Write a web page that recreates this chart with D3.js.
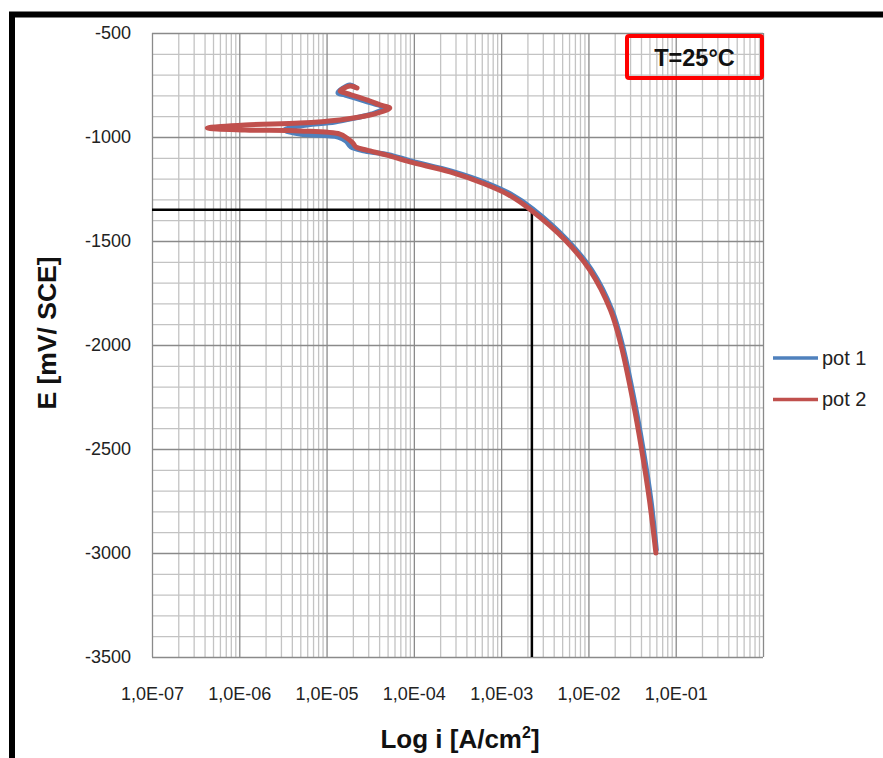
<!DOCTYPE html>
<html>
<head>
<meta charset="utf-8">
<script src="https://cdnjs.cloudflare.com/ajax/libs/d3/7.8.5/d3.min.js"></script>
<style>
  html, body { margin: 0; padding: 0; background: #fff; }
  svg { display: block; }
  text { font-family: "Liberation Sans", Arial, sans-serif; }
</style>
</head>
<body>
<svg id="chart" width="883" height="758"></svg>
<script>
// Current density i [A/cm²] and potential E [mV vs SCE] for the two polarization scans
const pot1Current = [2.11e-5, 1.85e-5, 1.35e-5, 1.63e-5, 2.75e-5, 3.9e-5, 4.67e-5, 3.3e-5, 2.1e-5, 1.25e-5,
  4.95e-6, 3.3e-6, 4.95e-6, 1.35e-5, 1.67e-5, 1.9e-5, 2.75e-5, 5.1e-5, 9.4e-5, 2.7e-4, 6.8e-4, 1.28e-3,
  2.3e-3, 5.7e-3, 1.09e-2, 1.86e-2, 2.45e-2, 3.35e-2, 4.25e-2, 5.2e-2, 6.0e-2];
const pot1Potential = [-760, -750, -788, -798, -827, -846, -861, -889, -909, -928,
  -947, -966, -986, -1000, -1019, -1048, -1067, -1085, -1116, -1164, -1221, -1274,
  -1346, -1495, -1640, -1832, -2000, -2265, -2505, -2745, -2985];

const pot2Current = [2.23e-5, 1.85e-5, 1.43e-5, 1.63e-5, 2.9e-5, 4.1e-5, 5.3e-5, 3.8e-5, 2.4e-5, 1.42e-5,
  4.95e-6, 1.16e-6, 4.3e-7, 1.16e-6, 4.95e-6, 1.42e-5, 1.71e-5, 2.0e-5, 2.17e-5, 2.9e-5, 4.9e-5, 9.0e-5,
  2.59e-4, 6.5e-4, 1.23e-3, 2.19e-3, 5.4e-3, 1.04e-2, 1.79e-2, 2.36e-2, 3.22e-2, 4.08e-2, 5.0e-2, 5.93e-2];
const pot2Potential = [-764, -755, -779, -788, -822, -846, -861, -885, -904, -918,
  -933, -942, -957, -966, -971, -986, -1005, -1029, -1048, -1063, -1087, -1120,
  -1168, -1226, -1279, -1351, -1495, -1640, -1832, -2000, -2265, -2505, -2745, -3000];

// Tafel reading: corrosion potential and current density
const refPotential = -1350;
const refCurrent = 2.25e-3;

const seriesNames = ["pot 1", "pot 2"];
const seriesColors = ["#4F81BD", "#C0504D"];

const xTickValues = [1e-7, 1e-6, 1e-5, 1e-4, 1e-3, 1e-2, 1e-1];
const yTickValues = [-500, -1000, -1500, -2000, -2500, -3000, -3500];
const xDomain = [1e-7, 1];
const yDomain = [-3500, -500];

const svg = d3.select("#chart");
const plot = { left: 152, top: 33, right: 763, bottom: 657 };

const x = d3.scaleLog().domain(xDomain).range([plot.left, plot.right]);
const y = d3.scaleLinear().domain(yDomain).range([plot.bottom, plot.top]);

// Outer frame (top and left edges)
svg.append("path")
  .attr("d", `M12,770 L12,14.5 L900,14.5`)
  .attr("fill", "none").attr("stroke", "#000").attr("stroke-width", 6);

// Grid: minor lines every 2..9 × decade and every 100 mV, major lines at decades / 500 mV
const minorX = [];
for (let e = -7; e < 0; e++) for (let k = 2; k <= 9; k++) minorX.push(k * Math.pow(10, e));
const majorX = xTickValues.concat([1]);
const minorY = d3.range(-3500, -499, 100).filter(v => v % 500 !== 0);

const grid = svg.append("g");
grid.append("g").attr("transform", `translate(0,${plot.bottom})`)
  .call(d3.axisBottom(x).tickValues(minorX).tickSize(-(plot.bottom - plot.top)).tickFormat(""))
  .call(g => g.select(".domain").remove())
  .call(g => g.selectAll("line").attr("stroke", "#c3c3c3").attr("stroke-width", 1.3));
grid.append("g").attr("transform", `translate(${plot.left},0)`)
  .call(d3.axisLeft(y).tickValues(minorY).tickSize(-(plot.right - plot.left)).tickFormat(""))
  .call(g => g.select(".domain").remove())
  .call(g => g.selectAll("line").attr("stroke", "#c3c3c3").attr("stroke-width", 1.3));
grid.append("g").attr("transform", `translate(0,${plot.bottom})`)
  .call(d3.axisBottom(x).tickValues(majorX).tickSize(-(plot.bottom - plot.top)).tickFormat(""))
  .call(g => g.select(".domain").remove())
  .call(g => g.selectAll("line").attr("stroke", "#8a8a8a").attr("stroke-width", 1.3));
grid.append("g").attr("transform", `translate(${plot.left},0)`)
  .call(d3.axisLeft(y).tickValues(yTickValues).tickSize(-(plot.right - plot.left)).tickFormat(""))
  .call(g => g.select(".domain").remove())
  .call(g => g.selectAll("line").attr("stroke", "#8a8a8a").attr("stroke-width", 1.3));

// Axis labels
const fmtExp = d => {
  const e = Math.round(Math.log10(d));
  return "1,0E" + (e < 0 ? "-" : "+") + String(Math.abs(e)).padStart(2, "0");
};
svg.append("g").attr("transform", `translate(0,${plot.bottom})`)
  .call(d3.axisBottom(x).tickValues(xTickValues).tickSize(0).tickPadding(30).tickFormat(fmtExp))
  .call(g => g.select(".domain").remove())
  .call(g => g.selectAll("text").attr("font-size", 18).attr("fill", "#222")
    .style("font-family", "'Liberation Sans', Arial, sans-serif"));
svg.append("g").attr("transform", `translate(${plot.left},0)`)
  .call(d3.axisLeft(y).tickValues(yTickValues).tickSize(0).tickPadding(21).tickFormat(d => String(d)))
  .call(g => g.select(".domain").remove())
  .call(g => g.selectAll("text").attr("font-size", 18).attr("fill", "#222")
    .style("font-family", "'Liberation Sans', Arial, sans-serif"));

// Reference lines marking the corrosion point
svg.append("path")
  .attr("d", `M${x(xDomain[0])},${y(refPotential)} L${x(refCurrent)},${y(refPotential)} L${x(refCurrent)},${y(yDomain[0])}`)
  .attr("fill", "none").attr("stroke", "#000").attr("stroke-width", 2.5);

// Polarization curves
const line = d3.line().x(d => x(d[0])).y(d => y(d[1])).curve(d3.curveCatmullRom.alpha(0.5));
const series = [
  d3.zip(pot1Current, pot1Potential),
  d3.zip(pot2Current, pot2Potential)
];
series.forEach((pts, i) => {
  svg.append("path").datum(pts)
    .attr("d", line)
    .attr("fill", "none")
    .attr("stroke", seriesColors[i])
    .attr("stroke-width", 5)
    .attr("stroke-linejoin", "round")
    .attr("stroke-linecap", "round");
});

// Temperature label box
svg.append("rect")
  .attr("x", 627).attr("y", 36).attr("width", 135).attr("height", 42)
  .attr("rx", 2)
  .attr("fill", "none").attr("stroke", "#ff0000").attr("stroke-width", 4);
svg.append("text")
  .attr("x", 694.5).attr("y", 66)
  .attr("text-anchor", "middle")
  .attr("font-size", 23.5).attr("font-weight", "bold").attr("fill", "#111")
  .text("T=25°C");

// Legend
seriesNames.forEach((name, i) => {
  const ly = 358 + i * 41.5;
  svg.append("line").attr("x1", 773).attr("x2", 818).attr("y1", ly).attr("y2", ly)
    .attr("stroke", seriesColors[i]).attr("stroke-width", 3.5);
  svg.append("text").attr("x", 822).attr("y", ly + 6.5)
    .attr("font-size", 20).attr("fill", "#222").text(name);
});

// Axis titles
svg.append("text")
  .attr("transform", `translate(56,333) rotate(-90)`)
  .attr("text-anchor", "middle")
  .attr("font-size", 26.5).attr("font-weight", "bold").attr("fill", "#111")
  .text("E [mV/ SCE]");

const xt = svg.append("text")
  .attr("x", 460).attr("y", 748)
  .attr("text-anchor", "middle")
  .attr("font-size", 26).attr("font-weight", "bold").attr("fill", "#111");
xt.append("tspan").text("Log i [A/cm");
xt.append("tspan").attr("font-size", 16).attr("dy", -10).text("2");
xt.append("tspan").attr("dy", 10).text("]");
</script>
</body>
</html>
